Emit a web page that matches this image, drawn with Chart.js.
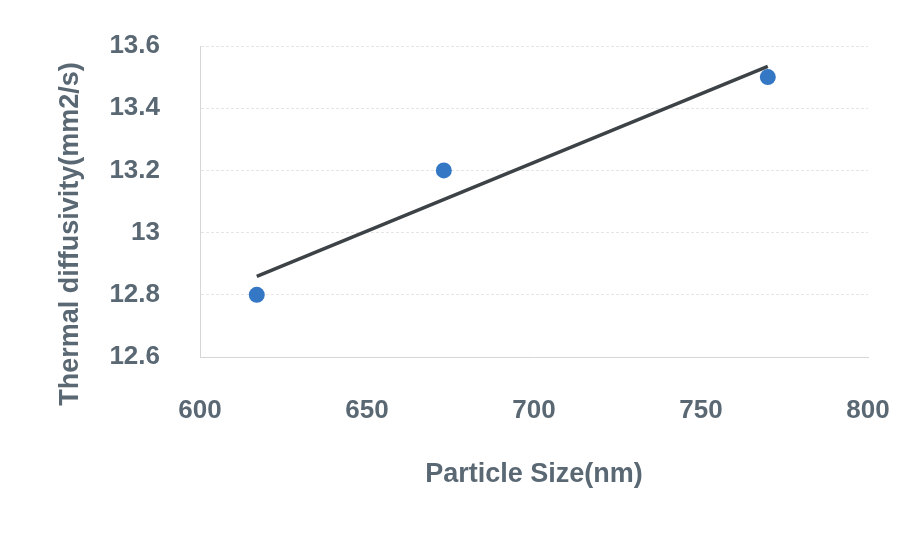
<!DOCTYPE html>
<html>
<head>
<meta charset="utf-8">
<script src="https://cdn.jsdelivr.net/npm/chart.js@4.4.1/dist/chart.umd.min.js"></script>
<style>
  html, body { margin: 0; padding: 0; background: #ffffff; }
  #wrap { width: 916px; height: 535px; }
</style>
</head>
<body>
<div id="wrap"><canvas id="chart" width="916" height="535"></canvas></div>
<script>
// Measured samples
const particleSize = [617, 673, 770];          // nm
const thermalDiffusivity = [12.8, 13.2, 13.5]; // mm2/s

// Axis ticks
const xTicks = [600, 650, 700, 750, 800];
const yTicks = [12.6, 12.8, 13.0, 13.2, 13.4, 13.6];

const xTitle = 'Particle Size(nm)';
const yTitle = 'Thermal diffusivity(mm2/s)';

const textColor = '#5a6874';
const tickFont = { family: '"Liberation Sans", Arial, sans-serif', size: 26, weight: 'bold' };
const titleFont = { family: '"Liberation Sans", Arial, sans-serif', size: 27, weight: 'bold' };

// Least-squares linear trend over the samples
function linearFit(xs, ys) {
  const n = xs.length;
  const mx = xs.reduce((a, b) => a + b, 0) / n;
  const my = ys.reduce((a, b) => a + b, 0) / n;
  let sxy = 0, sxx = 0;
  for (let i = 0; i < n; i++) {
    sxy += (xs[i] - mx) * (ys[i] - my);
    sxx += (xs[i] - mx) * (xs[i] - mx);
  }
  const slope = sxy / sxx;
  return { slope, intercept: my - slope * mx };
}
const fit = linearFit(particleSize, thermalDiffusivity);
const xMin = Math.min(...particleSize), xMax = Math.max(...particleSize);
const trendPoints = [xMin, xMax].map(x => ({ x, y: fit.intercept + fit.slope * x }));

const samplePoints = particleSize.map((x, i) => ({ x, y: thermalDiffusivity[i] }));

// Label overhang is already covered by the layout padding
function clearScalePadding(scale) {
  scale.paddingTop = 0;
  scale.paddingBottom = 0;
  scale.paddingLeft = 0;
  scale.paddingRight = 0;
}

// Rotated y-axis title drawn beside the value labels
const yTitlePlugin = {
  id: 'yTitle',
  afterDraw(chart) {
    const ctx = chart.ctx;
    ctx.save();
    ctx.translate(71, 234);
    ctx.rotate(-Math.PI / 2);
    ctx.font = `bold ${titleFont.size}px ${titleFont.family}`;
    ctx.fillStyle = textColor;
    ctx.textAlign = 'center';
    ctx.textBaseline = 'middle';
    ctx.fillText(yTitle, 0, 0);
    ctx.restore();
  }
};

new Chart(document.getElementById('chart'), {
  type: 'scatter',
  data: {
    datasets: [
      {
        label: 'Trend',
        type: 'line',
        data: trendPoints,
        borderColor: '#3c4245',
        borderWidth: 3.5,
        pointRadius: 0,
        fill: false,
        order: 2
      },
      {
        label: 'Samples',
        data: samplePoints,
        backgroundColor: '#3477c4',
        borderColor: '#3477c4',
        borderWidth: 0,
        pointRadius: 8,
        order: 1
      }
    ]
  },
  options: {
    responsive: false,
    animation: false,
    layout: { padding: { top: 46, right: 48, left: 0, bottom: 0 } },
    plugins: {
      legend: { display: false },
      tooltip: { enabled: false }
    },
    scales: {
      x: {
        type: 'linear',
        min: 600,
        max: 800,
        afterBuildTicks(scale) { scale.ticks = xTicks.map(v => ({ value: v })); },
        afterFit(scale) { scale.height = 178; clearScalePadding(scale); },
        ticks: {
          color: textColor,
          font: tickFont,
          padding: 38,
          callback: v => String(v)
        },
        grid: { display: false, drawTicks: false },
        border: { display: true, color: '#d6d6d6', width: 1, dash: [3, 2] },
        title: {
          display: true,
          text: xTitle,
          color: textColor,
          font: titleFont,
          padding: { top: 0, bottom: 44 }
        }
      },
      y: {
        type: 'linear',
        min: 12.6,
        max: 13.6,
        afterBuildTicks(scale) { scale.ticks = yTicks.map(v => ({ value: v })); },
        afterFit(scale) { scale.width = 200; clearScalePadding(scale); },
        ticks: {
          color: textColor,
          font: tickFont,
          padding: 40,
          callback: v => String(Math.round(v * 10) / 10)
        },
        grid: { color: '#e6e6e6', lineWidth: 1, drawTicks: false },
        border: { display: true, color: '#d6d6d6', width: 1, dash: [3, 2] },
        title: { display: false }
      }
    }
  },
  plugins: [yTitlePlugin]
});
</script>
</body>
</html>
